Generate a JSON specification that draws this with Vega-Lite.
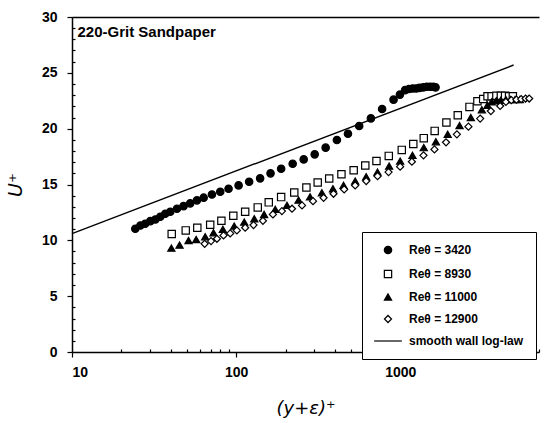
{
  "$schema": "https://vega.github.io/schema/vega-lite/v6.json",
  "width": 467,
  "height": 335,
  "autosize": {"type": "none"},
  "padding": {"left": 72, "top": 17, "right": 7, "bottom": 71},
  "background": "white",
  "config": {
    "view": {"stroke": null},
    "font": "Liberation Sans",
    "axis": {
      "grid": false,
      "domainColor": "black",
      "domainWidth": 1.5,
      "tickColor": "black",
      "tickWidth": 1.2,
      "labelFont": "Liberation Sans",
      "labelFontWeight": "bold",
      "labelFontSize": 14,
      "labelColor": "black",
      "titleFont": "DejaVu Sans",
      "titleFontStyle": "italic",
      "titleFontWeight": "normal",
      "titleColor": "black"
    },
    "legend": {
      "title": null,
      "orient": "none",
      "legendX": 290,
      "legendY": 215,
      "strokeColor": "black",
      "fillColor": "white",
      "padding": 12,
      "symbolOffset": 8,
      "labelOffset": 15,
      "rowPadding": 10,
      "labelFont": "Liberation Sans",
      "labelFontWeight": "bold",
      "labelFontSize": 12,
      "labelColor": "black",
      "labelLimit": 300,
      "symbolStrokeWidth": 1.2
    }
  },
  "datasets": {
    "loglaw": [
      {"yplus": 10, "u": 10.6},
      {"yplus": 4900, "u": 25.7}
    ],
    "note": [
      {"yplus": 10.8, "u": 28.2, "label": "220-Grit Sandpaper"}
    ],
    "profiles": [
      {"series": "Reθ = 3420", "yplus": 24.3, "u": 11.04},
      {"series": "Reθ = 3420", "yplus": 26.1, "u": 11.33},
      {"series": "Reθ = 3420", "yplus": 27.9, "u": 11.49},
      {"series": "Reθ = 3420", "yplus": 30.0, "u": 11.72},
      {"series": "Reθ = 3420", "yplus": 32.2, "u": 11.87},
      {"series": "Reθ = 3420", "yplus": 34.5, "u": 12.11},
      {"series": "Reθ = 3420", "yplus": 37.0, "u": 12.38},
      {"series": "Reθ = 3420", "yplus": 39.7, "u": 12.56},
      {"series": "Reθ = 3420", "yplus": 43.6, "u": 12.83},
      {"series": "Reθ = 3420", "yplus": 47.8, "u": 13.06},
      {"series": "Reθ = 3420", "yplus": 52.5, "u": 13.31},
      {"series": "Reθ = 3420", "yplus": 57.7, "u": 13.58},
      {"series": "Reθ = 3420", "yplus": 63.4, "u": 13.82},
      {"series": "Reθ = 3420", "yplus": 71.2, "u": 14.11},
      {"series": "Reθ = 3420", "yplus": 80.0, "u": 14.35},
      {"series": "Reθ = 3420", "yplus": 89.9, "u": 14.62},
      {"series": "Reθ = 3420", "yplus": 103.5, "u": 14.92},
      {"series": "Reθ = 3420", "yplus": 120, "u": 15.25},
      {"series": "Reθ = 3420", "yplus": 140, "u": 15.55},
      {"series": "Reθ = 3420", "yplus": 162, "u": 16.0},
      {"series": "Reθ = 3420", "yplus": 188, "u": 16.41},
      {"series": "Reθ = 3420", "yplus": 221, "u": 16.86},
      {"series": "Reθ = 3420", "yplus": 258, "u": 17.25},
      {"series": "Reθ = 3420", "yplus": 301, "u": 17.7},
      {"series": "Reθ = 3420", "yplus": 351, "u": 18.3},
      {"series": "Reθ = 3420", "yplus": 411, "u": 18.98},
      {"series": "Reθ = 3420", "yplus": 480, "u": 19.55},
      {"series": "Reθ = 3420", "yplus": 562, "u": 20.24},
      {"series": "Reθ = 3420", "yplus": 662, "u": 20.92},
      {"series": "Reθ = 3420", "yplus": 775, "u": 21.76},
      {"series": "Reθ = 3420", "yplus": 910, "u": 22.6},
      {"series": "Reθ = 3420", "yplus": 995, "u": 23.05},
      {"series": "Reθ = 3420", "yplus": 1070, "u": 23.45},
      {"series": "Reθ = 3420", "yplus": 1130, "u": 23.55},
      {"series": "Reθ = 3420", "yplus": 1190, "u": 23.6},
      {"series": "Reθ = 3420", "yplus": 1250, "u": 23.6},
      {"series": "Reθ = 3420", "yplus": 1310, "u": 23.65},
      {"series": "Reθ = 3420", "yplus": 1380, "u": 23.7},
      {"series": "Reθ = 3420", "yplus": 1450, "u": 23.75},
      {"series": "Reθ = 3420", "yplus": 1520, "u": 23.75},
      {"series": "Reθ = 3420", "yplus": 1590, "u": 23.75},
      {"series": "Reθ = 3420", "yplus": 1640, "u": 23.7},

      {"series": "Reθ = 8930", "yplus": 40.5, "u": 10.57},
      {"series": "Reθ = 8930", "yplus": 49.3, "u": 10.89},
      {"series": "Reθ = 8930", "yplus": 58.0, "u": 11.13},
      {"series": "Reθ = 8930", "yplus": 69.5, "u": 11.4},
      {"series": "Reθ = 8930", "yplus": 81.3, "u": 11.76},
      {"series": "Reθ = 8930", "yplus": 96.1, "u": 12.2},
      {"series": "Reθ = 8930", "yplus": 113.5, "u": 12.56},
      {"series": "Reθ = 8930", "yplus": 135.4, "u": 12.95},
      {"series": "Reθ = 8930", "yplus": 158, "u": 13.4},
      {"series": "Reθ = 8930", "yplus": 188, "u": 13.87},
      {"series": "Reθ = 8930", "yplus": 226, "u": 14.29},
      {"series": "Reθ = 8930", "yplus": 268, "u": 14.73},
      {"series": "Reθ = 8930", "yplus": 314, "u": 15.18},
      {"series": "Reθ = 8930", "yplus": 369, "u": 15.54},
      {"series": "Reθ = 8930", "yplus": 438, "u": 15.92},
      {"series": "Reθ = 8930", "yplus": 520, "u": 16.28},
      {"series": "Reθ = 8930", "yplus": 612, "u": 16.7},
      {"series": "Reθ = 8930", "yplus": 716, "u": 17.11},
      {"series": "Reθ = 8930", "yplus": 851, "u": 17.56},
      {"series": "Reθ = 8930", "yplus": 1021, "u": 18.1},
      {"series": "Reθ = 8930", "yplus": 1200, "u": 18.63},
      {"series": "Reθ = 8930", "yplus": 1390, "u": 19.15},
      {"series": "Reθ = 8930", "yplus": 1620, "u": 19.8},
      {"series": "Reθ = 8930", "yplus": 1910, "u": 20.55},
      {"series": "Reθ = 8930", "yplus": 2240, "u": 21.2},
      {"series": "Reθ = 8930", "yplus": 2640, "u": 21.95},
      {"series": "Reθ = 8930", "yplus": 2950, "u": 22.45},
      {"series": "Reθ = 8930", "yplus": 3200, "u": 22.65},
      {"series": "Reθ = 8930", "yplus": 3400, "u": 22.9},
      {"series": "Reθ = 8930", "yplus": 3600, "u": 22.9},
      {"series": "Reθ = 8930", "yplus": 3850, "u": 22.95},
      {"series": "Reθ = 8930", "yplus": 4100, "u": 22.95},
      {"series": "Reθ = 8930", "yplus": 4350, "u": 22.95},
      {"series": "Reθ = 8930", "yplus": 4600, "u": 22.9},
      {"series": "Reθ = 8930", "yplus": 4850, "u": 22.9},

      {"series": "Reθ = 11000", "yplus": 40.3, "u": 9.3},
      {"series": "Reθ = 11000", "yplus": 45.2, "u": 9.57},
      {"series": "Reθ = 11000", "yplus": 51.3, "u": 9.99},
      {"series": "Reθ = 11000", "yplus": 57.1, "u": 10.08},
      {"series": "Reθ = 11000", "yplus": 64.8, "u": 10.32},
      {"series": "Reθ = 11000", "yplus": 72.8, "u": 10.68},
      {"series": "Reθ = 11000", "yplus": 83, "u": 10.98},
      {"series": "Reθ = 11000", "yplus": 97.3, "u": 11.27},
      {"series": "Reθ = 11000", "yplus": 112, "u": 11.63},
      {"series": "Reθ = 11000", "yplus": 129, "u": 11.93},
      {"series": "Reθ = 11000", "yplus": 148, "u": 12.32},
      {"series": "Reθ = 11000", "yplus": 173, "u": 12.77},
      {"series": "Reθ = 11000", "yplus": 204, "u": 13.13},
      {"series": "Reθ = 11000", "yplus": 240, "u": 13.6},
      {"series": "Reθ = 11000", "yplus": 282, "u": 13.9},
      {"series": "Reθ = 11000", "yplus": 333, "u": 14.26},
      {"series": "Reθ = 11000", "yplus": 389, "u": 14.62},
      {"series": "Reθ = 11000", "yplus": 451, "u": 14.92},
      {"series": "Reθ = 11000", "yplus": 531, "u": 15.31},
      {"series": "Reθ = 11000", "yplus": 620, "u": 15.7},
      {"series": "Reθ = 11000", "yplus": 726, "u": 16.11},
      {"series": "Reθ = 11000", "yplus": 855, "u": 16.65},
      {"series": "Reθ = 11000", "yplus": 998, "u": 17.1},
      {"series": "Reθ = 11000", "yplus": 1186, "u": 17.61},
      {"series": "Reθ = 11000", "yplus": 1390, "u": 18.3},
      {"series": "Reθ = 11000", "yplus": 1648, "u": 18.83},
      {"series": "Reθ = 11000", "yplus": 1945, "u": 19.5},
      {"series": "Reθ = 11000", "yplus": 2296, "u": 20.28},
      {"series": "Reθ = 11000", "yplus": 2690, "u": 21.0},
      {"series": "Reθ = 11000", "yplus": 3140, "u": 21.7},
      {"series": "Reθ = 11000", "yplus": 3400, "u": 22.1},
      {"series": "Reθ = 11000", "yplus": 3600, "u": 22.4},
      {"series": "Reθ = 11000", "yplus": 3850, "u": 22.5},
      {"series": "Reθ = 11000", "yplus": 4100, "u": 22.55},
      {"series": "Reθ = 11000", "yplus": 4400, "u": 22.6},
      {"series": "Reθ = 11000", "yplus": 4700, "u": 22.6},
      {"series": "Reθ = 11000", "yplus": 5000, "u": 22.6},
      {"series": "Reθ = 11000", "yplus": 5350, "u": 22.6},

      {"series": "Reθ = 12900", "yplus": 64.3, "u": 9.69},
      {"series": "Reθ = 12900", "yplus": 70.3, "u": 9.93},
      {"series": "Reθ = 12900", "yplus": 76.4, "u": 10.14},
      {"series": "Reθ = 12900", "yplus": 83.8, "u": 10.44},
      {"series": "Reθ = 12900", "yplus": 92, "u": 10.62},
      {"series": "Reθ = 12900", "yplus": 101, "u": 10.89},
      {"series": "Reθ = 12900", "yplus": 113.5, "u": 11.13},
      {"series": "Reθ = 12900", "yplus": 127.6, "u": 11.37},
      {"series": "Reθ = 12900", "yplus": 145.6, "u": 11.75},
      {"series": "Reθ = 12900", "yplus": 167.5, "u": 12.32},
      {"series": "Reθ = 12900", "yplus": 190, "u": 12.62},
      {"series": "Reθ = 12900", "yplus": 219, "u": 12.83},
      {"series": "Reθ = 12900", "yplus": 252, "u": 13.13},
      {"series": "Reθ = 12900", "yplus": 294, "u": 13.51},
      {"series": "Reθ = 12900", "yplus": 341, "u": 13.81},
      {"series": "Reθ = 12900", "yplus": 392, "u": 14.17},
      {"series": "Reθ = 12900", "yplus": 455, "u": 14.56},
      {"series": "Reθ = 12900", "yplus": 531, "u": 14.92},
      {"series": "Reθ = 12900", "yplus": 620, "u": 15.31},
      {"series": "Reθ = 12900", "yplus": 727, "u": 15.75},
      {"series": "Reθ = 12900", "yplus": 848, "u": 16.11},
      {"series": "Reθ = 12900", "yplus": 998, "u": 16.6},
      {"series": "Reθ = 12900", "yplus": 1177, "u": 17.04},
      {"series": "Reθ = 12900", "yplus": 1385, "u": 17.61},
      {"series": "Reθ = 12900", "yplus": 1615, "u": 18.14},
      {"series": "Reθ = 12900", "yplus": 1900, "u": 18.78},
      {"series": "Reθ = 12900", "yplus": 2212, "u": 19.49},
      {"series": "Reθ = 12900", "yplus": 2601, "u": 20.18},
      {"series": "Reθ = 12900", "yplus": 3067, "u": 20.9},
      {"series": "Reθ = 12900", "yplus": 3563, "u": 21.58},
      {"series": "Reθ = 12900", "yplus": 4059, "u": 22.03},
      {"series": "Reθ = 12900", "yplus": 4400, "u": 22.4},
      {"series": "Reθ = 12900", "yplus": 4750, "u": 22.55},
      {"series": "Reθ = 12900", "yplus": 5100, "u": 22.6},
      {"series": "Reθ = 12900", "yplus": 5450, "u": 22.65},
      {"series": "Reθ = 12900", "yplus": 5800, "u": 22.7},
      {"series": "Reθ = 12900", "yplus": 6100, "u": 22.7}
    ]
  },
  "layer": [
    {
      "data": {"name": "loglaw"},
      "mark": {"type": "line", "color": "black", "strokeWidth": 1.4},
      "encoding": {
        "x": {
          "field": "yplus", "type": "quantitative",
          "scale": {"type": "log", "domain": [10, 7000], "nice": false},
          "axis": {"orient": "top", "labels": false, "ticks": false, "title": null, "domainColor": "black", "domainWidth": 1.5}
        },
        "y": {
          "field": "u", "type": "quantitative",
          "scale": {"domain": [0, 30], "nice": false},
          "axis": {
            "title": "U⁺",
            "titleFontSize": 19,
            "titlePadding": 16,
            "values": [0,1,2,3,4,5,6,7,8,9,10,11,12,13,14,15,16,17,18,19,20,21,22,23,24,25,26,27,28,29,30],
            "labelExpr": "datum.value % 5 == 0 ? datum.label : ''",
            "labelOverlap": false,
            "labelPadding": 10,
            "tickSize": {"condition": {"test": "datum.value % 5 == 0", "value": 5}, "value": -3}
          }
        }
      }
    },
    {
      "data": {"name": "profiles"},
      "mark": {"type": "point", "filled": true, "strokeWidth": 1.2, "opacity": 1},
      "encoding": {
        "x": {
          "field": "yplus", "type": "quantitative",
          "scale": {"type": "log", "domain": [10, 7000], "nice": false},
          "axis": {
            "orient": "bottom",
            "title": "(y+ε)⁺",
            "titleFontSize": 18,
            "titlePadding": 20,
            "values": [10,20,30,40,50,60,70,80,90,100,200,300,400,500,600,700,800,900,1000,2000,3000,4000,5000,6000,7000],
            "labelExpr": "indexof([10,100,1000], datum.value) >= 0 ? format(datum.value, 'd') : ''",
            "labelOverlap": false,
            "labelPadding": 8,
            "tickSize": {"condition": {"test": "indexof([10,100,1000], datum.value) >= 0", "value": 5}, "value": -3}
          }
        },
        "y": {
          "field": "u", "type": "quantitative",
          "scale": {"domain": [0, 30], "nice": false},
          "axis": {
            "title": "U⁺",
            "titleFontSize": 19,
            "titlePadding": 16,
            "values": [0,1,2,3,4,5,6,7,8,9,10,11,12,13,14,15,16,17,18,19,20,21,22,23,24,25,26,27,28,29,30],
            "labelExpr": "datum.value % 5 == 0 ? datum.label : ''",
            "labelOverlap": false,
            "labelPadding": 10,
            "tickSize": {"condition": {"test": "datum.value % 5 == 0", "value": 5}, "value": -3}
          }
        },
        "shape": {
          "field": "series", "type": "nominal",
          "scale": {
            "domain": ["Reθ = 3420", "Reθ = 8930", "Reθ = 11000", "Reθ = 12900", "smooth wall log-law"],
            "range": ["circle", "square", "triangle-up", "diamond", "M-4,0H4"]
          }
        },
        "fill": {
          "field": "series", "type": "nominal",
          "scale": {
            "domain": ["Reθ = 3420", "Reθ = 8930", "Reθ = 11000", "Reθ = 12900", "smooth wall log-law"],
            "range": ["black", "white", "black", "white", "transparent"]
          }
        },
        "stroke": {
          "field": "series", "type": "nominal",
          "scale": {
            "domain": ["Reθ = 3420", "Reθ = 8930", "Reθ = 11000", "Reθ = 12900", "smooth wall log-law"],
            "range": ["black", "black", "black", "black", "black"]
          }
        },
        "size": {
          "field": "series", "type": "nominal",
          "scale": {
            "domain": ["Reθ = 3420", "Reθ = 8930", "Reθ = 11000", "Reθ = 12900", "smooth wall log-law"],
            "range": [55, 48, 65, 70, 50]
          }
        }
      }
    },
    {
      "data": {"name": "note"},
      "mark": {"type": "text", "align": "left", "baseline": "alphabetic", "font": "Liberation Sans", "fontWeight": "bold", "fontSize": 15, "color": "black"},
      "encoding": {
        "x": {"field": "yplus", "type": "quantitative", "axis": null},
        "y": {
          "field": "u", "type": "quantitative",
          "scale": {"domain": [0, 30], "nice": false},
          "axis": {
            "title": "U⁺",
            "titleFontSize": 19,
            "titlePadding": 16,
            "values": [0,1,2,3,4,5,6,7,8,9,10,11,12,13,14,15,16,17,18,19,20,21,22,23,24,25,26,27,28,29,30],
            "labelExpr": "datum.value % 5 == 0 ? datum.label : ''",
            "labelOverlap": false,
            "labelPadding": 10,
            "tickSize": {"condition": {"test": "datum.value % 5 == 0", "value": 5}, "value": -3}
          }
        },
        "text": {"field": "label"}
      }
    }
  ],
  "resolve": {"axis": {"x": "independent"}}
}
